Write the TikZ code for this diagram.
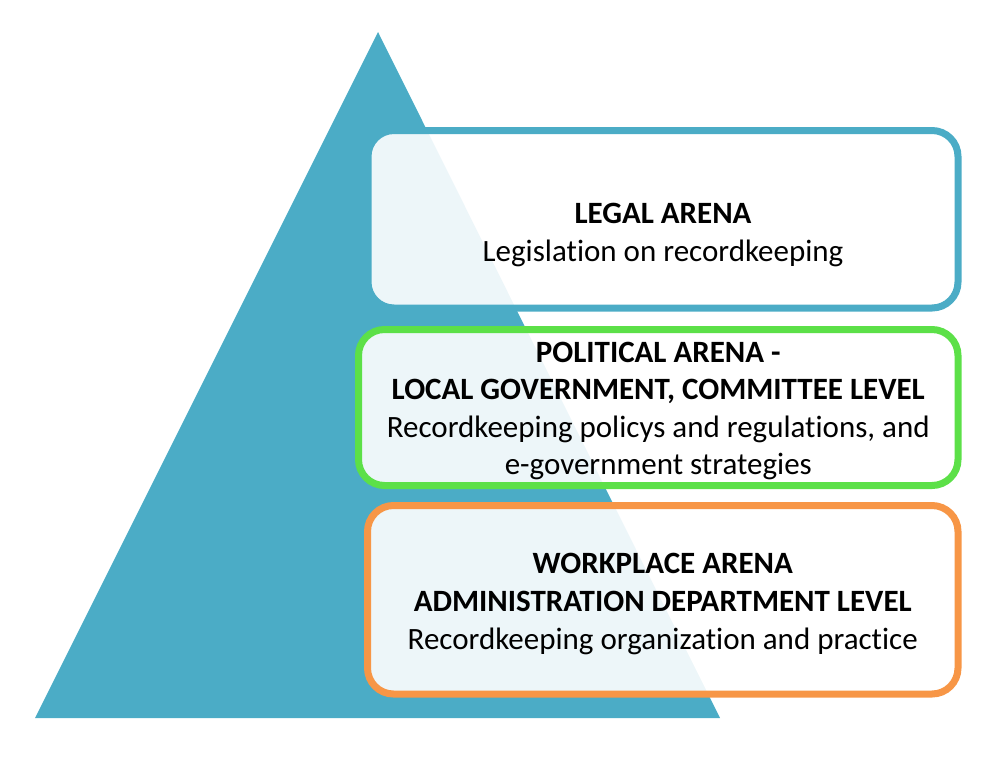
\documentclass[tikz,border=0pt]{standalone}
\usepackage{fontspec}
\setmainfont{Carlito}[Ligatures=NoCommon]
\usepackage{tikz}
\usetikzlibrary{positioning}
\definecolor{ArenaBlue}{RGB}{75,172,198}
\definecolor{ArenaGreen}{RGB}{92,224,72}
\definecolor{ArenaOrange}{RGB}{247,150,70}
\tikzset{
  abox/.style={rectangle,rounded corners=26pt,line width=7pt,fill=white,fill opacity=0.9,inner sep=0pt},
  lbox/.style={abox,draw=ArenaBlue},
  gbox/.style={abox,draw=ArenaGreen},
  obox/.style={abox,draw=ArenaOrange},
  atext/.style={align=center,inner sep=0pt},
}

\begin{document}
\begin{tikzpicture}[x=1pt,y=-1pt,font=\fontsize{31}{37.6}\selectfont]
  \useasboundingbox (0,0) rectangle (1008,780);
  % pyramid
  \fill[ArenaBlue] (35,718) -- (378,32) -- (720,718) -- cycle;
  % arenas
  \node[lbox,minimum width=590pt,minimum height=177.5pt] (legal) at (663,219.25) {};
  \node[gbox,minimum width=599.5pt,minimum height=156pt] (political) at (658.25,407.5) {};
  \node[obox,minimum width=590.5pt,minimum height=188.5pt] (workplace) at (662.75,599.75) {};
  \node[atext] (legaltxt) at (663,235) {\textbf{LEGAL ARENA}\\Legislation on recordkeeping};
  \node[atext] (politicaltxt) at (658.25,411) {\textbf{POLITICAL ARENA -}\\\textbf{LOCAL GOVERNMENT, COMMITTEE LEVEL}\\Recordkeeping policys and regulations, and\\e-government strategies};
  \node[atext] (workplacetxt) at (662.75,604) {\textbf{WORKPLACE ARENA}\\\textbf{ADMINISTRATION DEPARTMENT LEVEL}\\Recordkeeping organization and practice};
\end{tikzpicture}
\end{document}
